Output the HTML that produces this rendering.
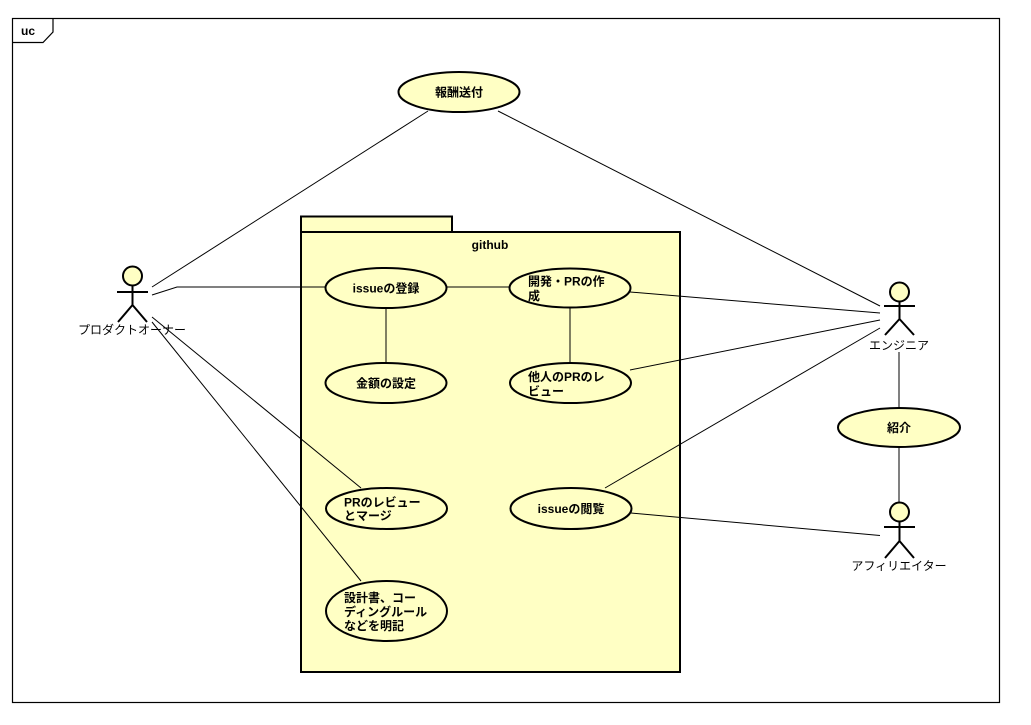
<!DOCTYPE html>
<html><head><meta charset="utf-8">
<style>
html,body{margin:0;padding:0;background:#fff;}
svg{display:block;}
text{font-family:"Liberation Sans","Noto Sans CJK JP",sans-serif;font-size:12px;fill:#000;}
.b{font-weight:bold;}
</style></head>
<body>
<svg width="1031" height="725" viewBox="0 0 1031 725" xmlns="http://www.w3.org/2000/svg">
<rect x="0" y="0" width="1031" height="725" fill="#fff"/>
<!-- frame -->
<rect x="12.5" y="18.5" width="987" height="684" fill="none" stroke="#000" stroke-width="1.2"/>
<path d="M12.5 42.5 H43 L53 32 V18.5" fill="none" stroke="#000" stroke-width="1.2"/>
<text x="21" y="35" class="b">uc</text>

<!-- package -->
<rect x="301" y="216.5" width="151" height="16" fill="#ffffc4" stroke="#000" stroke-width="2"/>
<rect x="301" y="232" width="379" height="440" fill="#ffffc4" stroke="#000" stroke-width="2"/>
<text x="490" y="249" class="b" text-anchor="middle">github</text>

<!-- connectors -->
<g stroke="#000" stroke-width="1" fill="none">
<line x1="152" y1="287" x2="428" y2="111"/>
<polyline points="152,295 177,287 326,287"/>
<line x1="152" y1="317" x2="361" y2="488"/>
<line x1="152" y1="322" x2="361" y2="581"/>
<line x1="498" y1="111" x2="880" y2="306"/>
<line x1="446" y1="287" x2="510" y2="287"/>
<line x1="386" y1="308" x2="386" y2="363"/>
<line x1="570" y1="307" x2="570" y2="363"/>
<line x1="630" y1="292" x2="880" y2="313"/>
<line x1="630" y1="370" x2="880" y2="320"/>
<line x1="605" y1="488" x2="880" y2="328"/>
<line x1="631" y1="513" x2="880" y2="535.5"/>
<line x1="899" y1="352" x2="899" y2="408"/>
<line x1="899" y1="447" x2="899" y2="502"/>
</g>

<!-- use cases -->
<g fill="#ffffc4" stroke="#000" stroke-width="2">
<ellipse cx="459" cy="92" rx="60.5" ry="20"/>
<ellipse cx="386" cy="288" rx="60.5" ry="20"/>
<ellipse cx="570" cy="288" rx="60.5" ry="19.5"/>
<ellipse cx="386" cy="383" rx="60.5" ry="20"/>
<ellipse cx="570.5" cy="383" rx="60.5" ry="20"/>
<ellipse cx="386.5" cy="508.5" rx="60.5" ry="20.5"/>
<ellipse cx="571" cy="508.5" rx="60.5" ry="20.5"/>
<ellipse cx="386.5" cy="611" rx="60.5" ry="30"/>
<ellipse cx="899" cy="427.5" rx="61" ry="19.5"/>
</g>

<g class="b">
<text x="459" y="96.5" text-anchor="middle" class="b">報酬送付</text>
<text x="386" y="292.5" text-anchor="middle" class="b">issueの登録</text>
<text x="528" y="285.5" class="b">開発・PRの作</text>
<text x="528" y="300" class="b">成</text>
<text x="386" y="387.5" text-anchor="middle" class="b">金額の設定</text>
<text x="528" y="381" class="b">他人のPRのレ</text>
<text x="528" y="395.5" class="b">ビュー</text>
<text x="344" y="506.5" class="b">PRのレビュー</text>
<text x="344" y="520" class="b">とマージ</text>
<text x="571" y="513" text-anchor="middle" class="b">issueの閲覧</text>
<text x="344" y="602" class="b">設計書、コー</text>
<text x="344" y="616" class="b">ディングルール</text>
<text x="344" y="630" class="b">などを明記</text>
<text x="899" y="432" text-anchor="middle" class="b">紹介</text>
</g>

<!-- actors -->
<g stroke="#000" stroke-width="2" fill="none">
<!-- product owner -->
<circle cx="132.5" cy="276" r="9.5" fill="#ffffc4"/>
<line x1="132.5" y1="285.5" x2="132.5" y2="305"/>
<line x1="117" y1="292" x2="148" y2="292"/>
<line x1="132.5" y1="305" x2="118" y2="322"/>
<line x1="132.5" y1="305" x2="147" y2="322"/>
<!-- engineer -->
<circle cx="899.5" cy="292" r="9.5" fill="#ffffc4"/>
<line x1="899.5" y1="301.5" x2="899.5" y2="319"/>
<line x1="884" y1="306" x2="915" y2="306"/>
<line x1="899.5" y1="319" x2="885" y2="335"/>
<line x1="899.5" y1="319" x2="914" y2="335"/>
<!-- affiliate -->
<circle cx="899.5" cy="512" r="9.5" fill="#ffffc4"/>
<line x1="899.5" y1="521.5" x2="899.5" y2="541"/>
<line x1="884" y1="527" x2="915" y2="527"/>
<line x1="899.5" y1="541" x2="885" y2="558"/>
<line x1="899.5" y1="541" x2="914" y2="558"/>
</g>
<text x="132" y="334" text-anchor="middle">プロダクトオーナー</text>
<text x="899" y="349.5" text-anchor="middle">エンジニア</text>
<text x="899" y="570" text-anchor="middle">アフィリエイター</text>
</svg>
</body></html>
